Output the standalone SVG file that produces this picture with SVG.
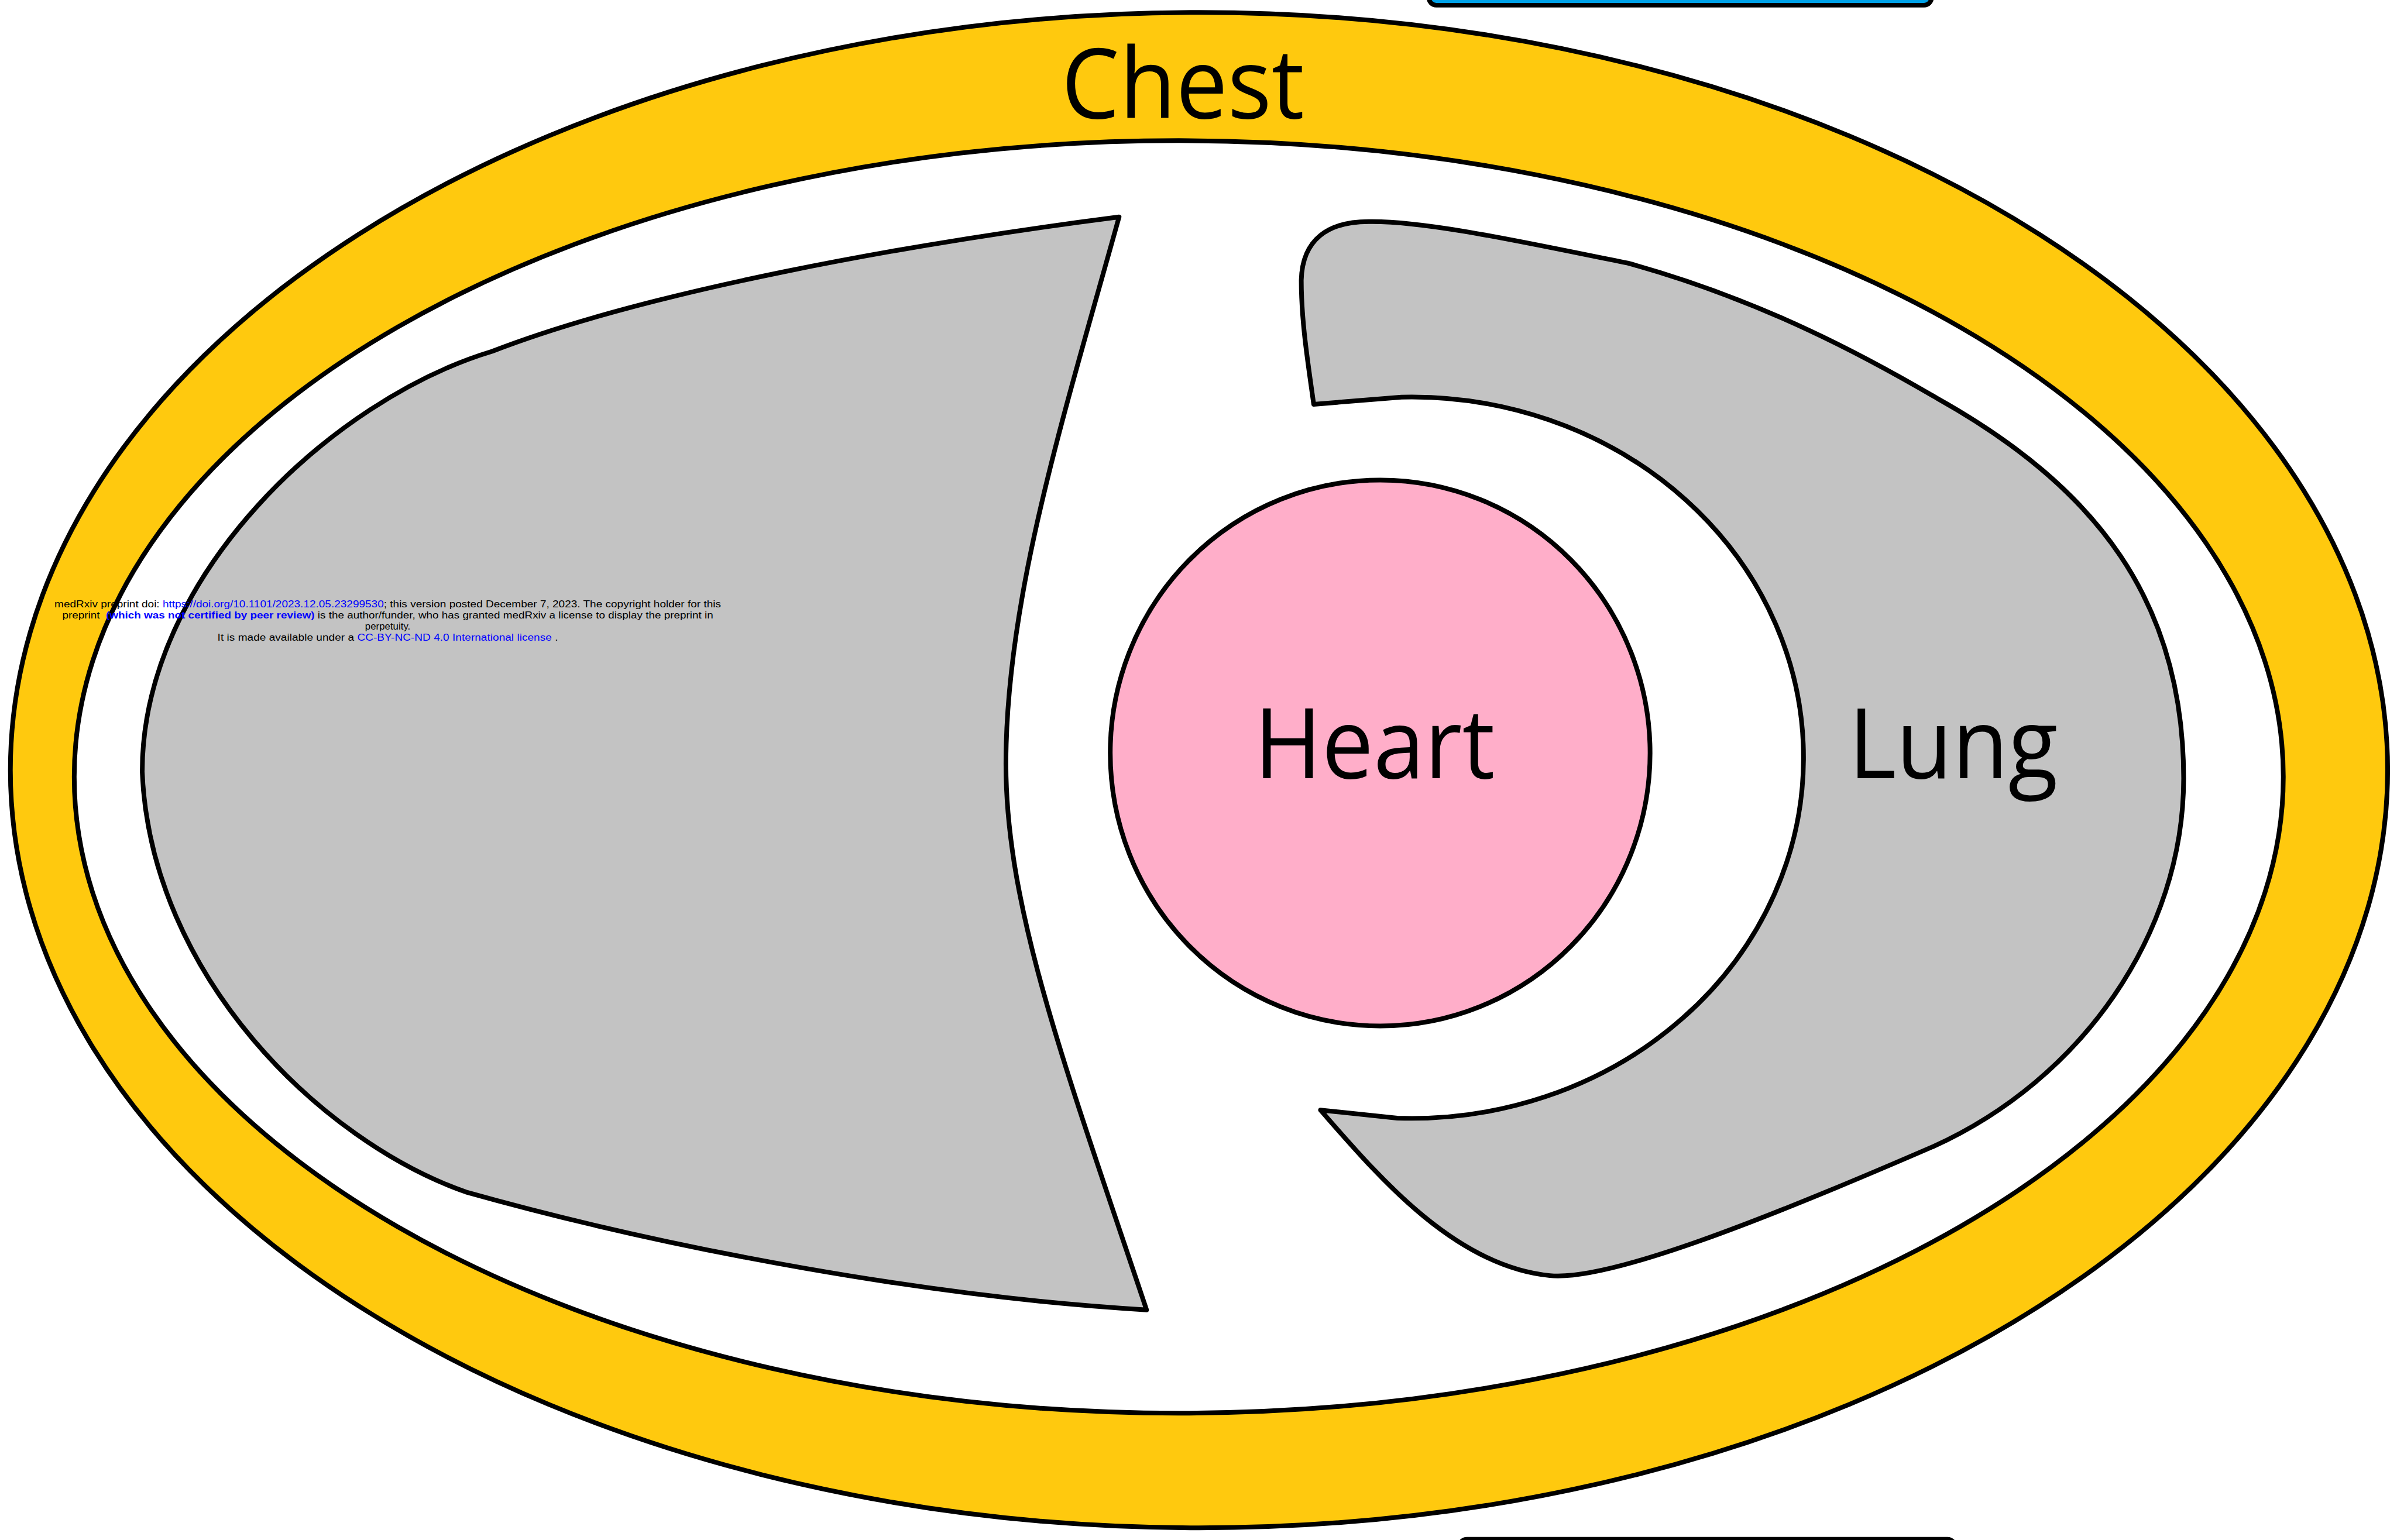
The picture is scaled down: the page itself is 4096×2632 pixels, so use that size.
<svg xmlns="http://www.w3.org/2000/svg" width="4096" height="2632" viewBox="0 0 4096 2632">
<style>
.ln{stroke:#000;stroke-width:9;stroke-linejoin:round}
.yel{fill:#FFC90E}
.wht{fill:#FFFFFF}
.gry{fill:#C3C3C3}
.pnk{fill:#FFAEC9}
.lbl{font-family:"Open Sans","Noto Sans","DejaVu Sans",sans-serif;font-size:189px;fill:#000;text-anchor:middle}
.wm{font-family:"Liberation Sans",Arial,sans-serif;font-size:19px;fill:#000;text-anchor:middle}
.lk{fill:#0000FF}
.bd{fill:#0000FF;font-weight:bold}
</style>
<rect width="4096" height="2632" fill="#FFFFFF"/>
<g transform="scale(0.88696)">
  <g id="top-bar">
    <rect x="2753" y="-40" width="968" height="50" rx="14" fill="#00A2E8" class="ln"/>
  </g>
  <g id="bottom-bar">
    <rect x="2812" y="2966" width="954" height="60" rx="14" fill="#000000" class="ln"/>
  </g>
  <g id="chest">
    <ellipse cx="2310" cy="1484" rx="2290" ry="1460" class="yel ln"/>
    <ellipse cx="2271" cy="1497" rx="2128" ry="1226" class="wht ln"/>
    <text class="lbl" x="2279" y="228" textLength="468" lengthAdjust="spacingAndGlyphs">Chest</text>
  </g>
  <g id="left-lung">
    <path class="gry ln" d="M 2156 418 C 1750 470 1250 560 948 677 C 640 770 274 1110 274 1487 C 290 1880 620 2200 898 2297 C 1300 2410 1800 2500 2209 2524 C 2050 2050 1938 1750 1938 1472 C 1938 1150 2050 800 2156 418 Z"/>
  </g>
  <g id="right-lung">
    <path class="gry ln" d="M 2531 779 L 2700 765.2 A 755 695 0 1 1 2692 2154.5 L 2544 2139 C 2650 2260 2800 2440 2986 2458 C 3100 2469 3400 2350 3725 2209 C 4010 2080 4207 1800 4207 1500 C 4207 1160 4040 940 3733 768 C 3600 690 3400 580 3136 507 C 2950 470 2750 425 2637 427 C 2560 427 2509 460 2507 540 C 2507 620 2520 700 2531 779 Z"/>
    <text class="lbl" x="3763" y="1500" textLength="403" lengthAdjust="spacingAndGlyphs">Lung</text>
  </g>
  <g id="heart">
    <ellipse cx="2659" cy="1451" rx="520" ry="526" class="pnk ln"/>
    <text class="lbl" x="2648" y="1500" textLength="464" lengthAdjust="spacingAndGlyphs">Heart</text>
  </g>
  <g id="watermark">
    <text class="wm" x="747" y="1170" textLength="1284" lengthAdjust="spacingAndGlyphs">medRxiv preprint doi: <tspan class="lk">https://doi.org/10.1101/2023.12.05.23299530</tspan>; this version posted December 7, 2023. The copyright holder for this</text>
    <text class="wm" x="747" y="1192" textLength="1254" lengthAdjust="spacingAndGlyphs" xml:space="preserve">preprint  <tspan class="bd">(which was not certified by peer review)</tspan> is the author/funder, who has granted medRxiv a license to display the preprint in</text>
    <text class="wm" x="747" y="1213">perpetuity.</text>
    <text class="wm" x="747" y="1235" textLength="656" lengthAdjust="spacingAndGlyphs">It is made available under a <tspan class="lk">CC-BY-NC-ND 4.0 International license</tspan> .</text>
  </g>
</g>
</svg>
